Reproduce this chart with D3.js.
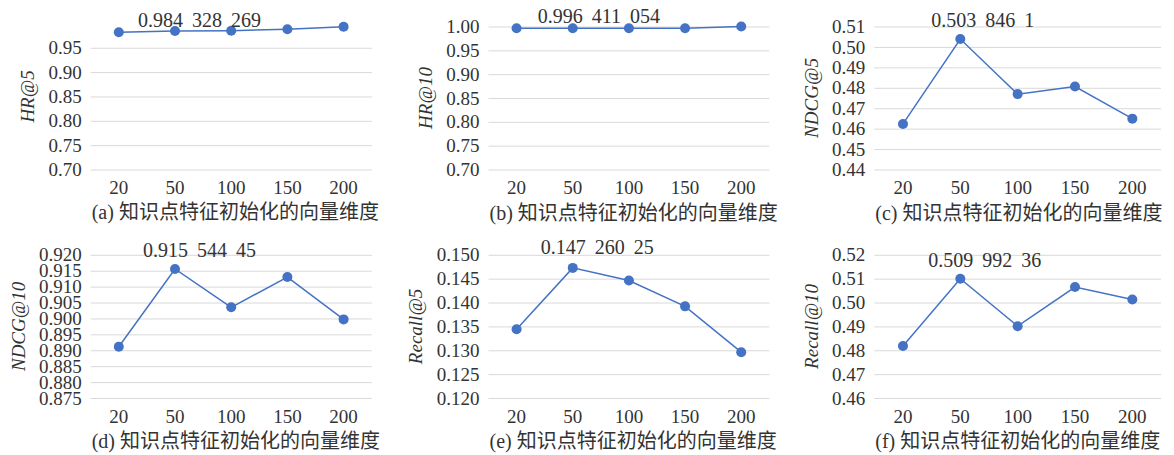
<!DOCTYPE html>
<html lang="en">
<head>
<meta charset="UTF-8">
<title>向量维度</title>
<script src="https://cdn.jsdelivr.net/npm/d3@7"></script>
<style>
  body { margin: 0; background: #fff; }
  svg { font-family: "Liberation Serif", serif; }
  .serif { font-family: "Liberation Serif", serif; }
  .cjk { font-family: "Noto Sans CJK SC", sans-serif; }
</style>
</head>
<body>
<svg id="chart" width="1174" height="455"></svg>
<script>
// x categories: embedding size used to initialise the knowledge-point features
var dims = ["20", "50", "100", "150", "200"];

// series (the peak of each panel is the labelled value)
var hr5      = [0.982, 0.984328269, 0.985, 0.988, 0.993];
var hr10     = [0.9963, 0.996411054, 0.9963, 0.9963, 1.000];
var ndcg5    = [0.4623, 0.5038461, 0.4769, 0.4806, 0.4649];
var ndcg10   = [0.8911, 0.91554445, 0.9035, 0.9130, 0.8997];
var recall5  = [0.1344, 0.14726025, 0.1446, 0.1392, 0.1296];
var recall10 = [0.4818, 0.50999236, 0.4901, 0.5065, 0.5013];

// y tick labels
var hr5Ticks      = ["0.70", "0.75", "0.80", "0.85", "0.90", "0.95"];
var hr10Ticks     = ["0.70", "0.75", "0.80", "0.85", "0.90", "0.95", "1.00"];
var ndcg5Ticks    = ["0.44", "0.45", "0.46", "0.47", "0.48", "0.49", "0.50", "0.51"];
var ndcg10Ticks   = ["0.875", "0.880", "0.885", "0.890", "0.895", "0.900", "0.905", "0.910", "0.915", "0.920"];
var recall5Ticks  = ["0.120", "0.125", "0.130", "0.135", "0.140", "0.145", "0.150"];
var recall10Ticks = ["0.46", "0.47", "0.48", "0.49", "0.50", "0.51", "0.52"];

// peak labels
var peakLabels = ["0.984 328 269", "0.996 411 054", "0.503 846 1", "0.915 544 45", "0.147 260 25", "0.509 992 36"];

var xCaption = "知识点特征初始化的向量维度";

var blue = "#4472C4";
var grid = "#d9d9d9";
var ink = "#333";

var cols = [{l: 90.7, r: 371.7}, {l: 488.5, r: 769.3}, {l: 874.3, r: 1161}];
var rows = [{t: 26.5, b: 169.5}, {t: 254.8, b: 398}];

var panels = [
  {tag: "a", values: hr5, ticks: hr5Ticks, domain: [0.70, 1.00], title: "HR@5", col: 0, row: 0, top: 23.4, ldx: -37, ldy: -4},
  {tag: "b", values: hr10, ticks: hr10Ticks, domain: [0.70, 1.00], title: "HR@10", col: 1, row: 0, ldx: -35, ldy: -5},
  {tag: "c", values: ndcg5, ticks: ndcg5Ticks, domain: [0.44, 0.51], title: "NDCG@5", col: 2, row: 0, ldx: -29, ldy: -12},
  {tag: "d", values: ndcg10, ticks: ndcg10Ticks, domain: [0.875, 0.920], title: "NDCG@10", col: 0, row: 1, ldx: -32, ldy: -12},
  {tag: "e", values: recall5, ticks: recall5Ticks, domain: [0.120, 0.150], title: "Recall@5", col: 1, row: 1, ldx: -32, ldy: -14},
  {tag: "f", values: recall10, ticks: recall10Ticks, domain: [0.46, 0.52], title: "Recall@10", col: 2, row: 1, ldx: -32, ldy: -12}
];

var svg = d3.select("#chart");

panels.forEach(function (p, i) {
  var c = cols[p.col], r = rows[p.row];
  var top = p.top != null ? p.top : r.t;
  var w = c.r - c.l, h = r.b - top;

  var g = svg.append("g")
      .attr("transform", "translate(" + c.l + "," + top + ")");

  var x = d3.scaleBand().domain(dims).range([0, w]).padding(0);
  var y = d3.scaleLinear().domain(p.domain).range([h, 0]);

  // gridlines + y tick labels
  var yAxis = d3.axisLeft(y)
      .tickValues(p.ticks.map(Number))
      .tickFormat(function (d, j) { return p.ticks[j]; })
      .tickSize(-w)
      .tickSizeOuter(0)
      .tickPadding(9);
  var ya = g.append("g").call(yAxis);
  ya.attr("font-family", null).attr("font-size", null);
  ya.select(".domain").remove();
  ya.selectAll(".tick line").attr("stroke", grid).attr("stroke-width", 1);
  ya.selectAll(".tick text")
      .attr("class", "serif")
      .style("font-size", "19px")
      .attr("fill", ink);

  // x tick labels
  var xa = g.append("g")
      .attr("transform", "translate(0," + h + ")")
      .call(d3.axisBottom(x).tickSize(0).tickPadding(11.5));
  xa.attr("font-family", null).attr("font-size", null);
  xa.select(".domain").remove();
  xa.selectAll(".tick text")
      .attr("class", "serif")
      .style("font-size", "19px")
      .attr("fill", ink);

  // y title, placed left of the widest tick label
  var maxW = 0;
  ya.selectAll(".tick text").each(function () {
    maxW = Math.max(maxW, this.getComputedTextLength());
  });
  var tx = -9 - maxW - 21;
  g.append("text")
      .attr("class", "serif")
      .attr("transform", "translate(" + tx + "," + (h / 2) + ") rotate(-90)")
      .attr("text-anchor", "middle")
      .attr("dy", "0.35em")
      .style("font-style", "italic")
      .style("font-size", "19px")
      .attr("fill", ink)
      .text(p.title);

  // line
  var cx = function (d, j) { return x(dims[j]) + x.bandwidth() / 2; };
  var line = d3.line().x(cx).y(function (d) { return y(d); });
  g.append("path")
      .datum(p.values)
      .attr("fill", "none")
      .attr("stroke", blue)
      .attr("stroke-width", 1.5)
      .attr("d", line);

  g.selectAll("circle.pt")
      .data(p.values)
      .enter().append("circle")
      .attr("class", "pt")
      .attr("cx", cx)
      .attr("cy", function (d) { return y(d); })
      .attr("r", 5)
      .attr("fill", blue);

  // peak label on the 50 point
  var pk = 1;
  g.append("text")
      .attr("class", "serif")
      .attr("x", cx(null, pk) + p.ldx)
      .attr("y", y(p.values[pk]) + p.ldy)
      .style("font-size", "20px")
      .style("word-spacing", "4px")
      .attr("fill", ink)
      .text(peakLabels[i]);

  // caption
  var cap = g.append("text")
      .attr("x", 1)
      .attr("y", h + 50)
      .style("font-size", "20px")
      .attr("fill", ink);
  cap.append("tspan").attr("class", "serif").text("(" + p.tag + ") ");
  cap.append("tspan").attr("class", "cjk").text(xCaption);
});
</script>
</body>
</html>
